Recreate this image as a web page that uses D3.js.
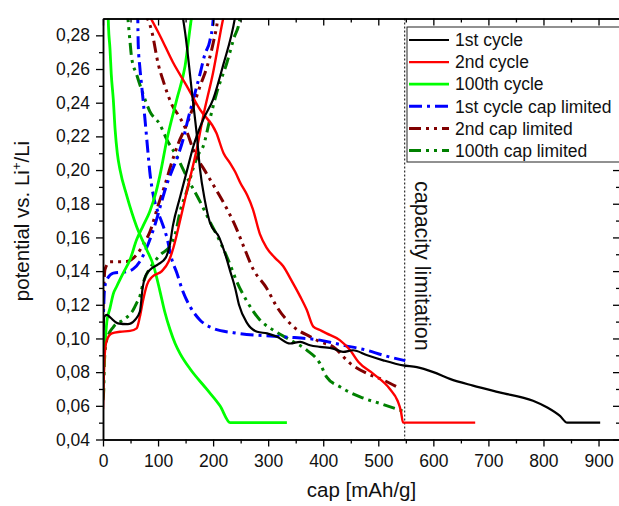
<!DOCTYPE html>
<html>
<head>
<meta charset="utf-8">
<script src="https://cdn.jsdelivr.net/npm/d3@7"></script>
<style>
  html, body { margin: 0; padding: 0; background: #fff; }
  svg { display: block; font-family: "Liberation Sans", Arial, sans-serif; }
</style>
</head>
<body>
<svg id="chart" width="619" height="506"></svg>
<script>
// Capacity / potential pairs [mAh/g, V vs. Li+/Li], one array per branch.
const cycle1Discharge = [[143,0.295],[149,0.282],[163,0.242],[170,0.222],[176,0.201],[185,0.182],[194,0.169],[211,0.160],[222,0.150],[231,0.140],[240,0.130],[247,0.120],[262,0.109],[280,0.104],[298,0.103],[316,0.101],[340,0.097],[358,0.098],[376,0.096],[394,0.095],[418,0.094],[436,0.092],[454,0.093],[480,0.090],[509,0.087],[545,0.084],[570,0.083],[600,0.080],[630,0.076],[672,0.072],[720,0.068],[781,0.063],[807,0.059],[830,0.054],[843,0.050],[903,0.050]];
const cycle1Charge = [[0,0.095],[1,0.105],[2.5,0.113],[7,0.114],[13,0.1125],[27,0.109],[45,0.1085],[58,0.111],[67,0.116],[72,0.130],[77,0.137],[86,0.141],[100,0.144],[114,0.148],[121,0.155],[127,0.167],[140,0.184],[152,0.199],[164,0.214],[182,0.230],[200,0.242],[218,0.262],[240,0.291],[242,0.295]];

const cycle2Discharge = [[82,0.293],[104,0.2795],[127,0.264],[152,0.250],[176,0.236],[206,0.222],[219,0.210],[231,0.204],[240,0.199],[250,0.192],[262,0.185],[272,0.177],[285,0.162],[297,0.154],[312,0.148],[327,0.143],[343,0.134],[358,0.125],[370,0.117],[382,0.107],[394,0.105],[406,0.103],[430,0.099],[449,0.093],[464,0.086],[491,0.079],[521,0.070],[535,0.063],[541,0.057],[545,0.050],[676,0.050]];
const cycle2Charge = [[0,0.058],[1.3,0.075],[3,0.090],[7,0.099],[16,0.103],[31,0.104],[49,0.1045],[61,0.106],[67,0.113],[73,0.123],[80,0.132],[89,0.1365],[107,0.140],[119,0.1455],[128,0.154],[140,0.170],[152,0.187],[170,0.212],[182,0.232],[200,0.258],[218,0.2895],[221,0.294]];

const cycle100Discharge = [[9,0.295],[10,0.285],[12.7,0.272],[15,0.257],[18.7,0.242],[22,0.224],[26,0.210],[31,0.200],[43,0.185],[61,0.1665],[79,0.153],[92,0.143],[103.5,0.128],[112,0.116],[122,0.105],[131,0.097],[140,0.091],[158,0.082],[188,0.070],[212.5,0.060],[231,0.050],[334,0.050]];
const cycle100Charge = [[0,0.068],[1.8,0.087],[3.6,0.096],[7,0.110],[12.7,0.118],[18.7,0.1265],[25,0.131],[37,0.139],[49,0.1467],[61,0.1586],[73,0.167],[85,0.1754],[96,0.1866],[103.5,0.197],[116,0.218],[134,0.242],[149,0.2617],[161,0.291],[163,0.295]];

const limited1Discharge = [[63,0.295],[64,0.2746],[67,0.2607],[70,0.2508],[73,0.2409],[76,0.231],[82,0.2092],[85,0.199],[92,0.184],[100,0.175],[108,0.168],[116,0.160],[125,0.147],[134,0.139],[145,0.128],[158,0.119],[176,0.111],[200,0.106],[237,0.1034],[327,0.101],[394,0.099],[436,0.096],[479,0.093],[509,0.090],[549,0.0868]];
const limited1Charge = [[0,0.105],[0.5,0.111],[1.3,0.119],[2.7,0.129],[6.7,0.1348],[18.7,0.1388],[43,0.1397],[55,0.1413],[67,0.1457],[79,0.1537],[94.5,0.1676],[106.6,0.1814],[115.7,0.1913],[124.8,0.1992],[136.8,0.2092],[145.3,0.218],[155,0.231],[164,0.242],[176,0.2568],[185,0.2687],[194,0.2766],[200.4,0.2905],[201,0.294]];

const limited2Discharge = [[72,0.295],[88.5,0.2825],[100.5,0.2627],[109.5,0.2528],[125,0.2389],[140,0.231],[152,0.223],[164,0.2121],[188,0.198],[206,0.188],[225,0.177],[240,0.167],[255,0.155],[273,0.141],[297,0.130],[315.5,0.1189],[346,0.107],[376,0.1011],[394,0.0981],[418,0.0951],[449,0.0852],[479,0.0793],[509,0.0753],[533.5,0.0713]];
const limited2Charge = [[0,0.117],[1.3,0.129],[3.6,0.141],[12.7,0.1455],[43,0.1457],[61,0.1497],[73,0.1556],[85.4,0.1635],[100.5,0.1794],[112.6,0.1913],[124.8,0.2044],[136,0.2152],[152,0.227],[164,0.2377],[176,0.2496],[188,0.2603],[200,0.2752],[209,0.2912],[210,0.294]];

const limited100Discharge = [[44,0.295],[49,0.2765],[52,0.2667],[61,0.2568],[73,0.2449],[85,0.2349],[103.5,0.227],[116,0.2181],[134,0.2081],[152,0.1961],[176,0.1814],[194,0.1695],[212.5,0.1576],[231,0.1437],[243,0.1338],[261,0.1223],[285,0.111],[309,0.105],[340,0.0991],[370,0.0931],[394,0.0852],[406,0.0772],[430.5,0.0713],[467,0.0653],[503,0.0614],[545,0.0568]];
const limited100Charge = [[0,0.0634],[1.3,0.0693],[2.7,0.0872],[6.7,0.099],[18.7,0.1068],[37,0.111],[55,0.117],[61,0.121],[67,0.125],[73,0.133],[79,0.138],[90,0.144],[103.5,0.1495],[122,0.155],[132,0.163],[140,0.1754],[152,0.1873],[164,0.2012],[173,0.2092],[182,0.2141],[194,0.230],[206.5,0.2459],[225,0.2637],[237,0.2776],[249,0.2905],[250,0.294]];

const seriesNames = ["1st cycle", "2nd cycle", "100th cycle", "1st cycle cap limited", "2nd cap limited", "100th cap limited"];
const seriesColors = ["#000000", "#ff0000", "#00ff00", "#0000ff", "#800000", "#008000"];
const capacityLimit = 548;

const xMajorTicks = [0, 100, 200, 300, 400, 500, 600, 700, 800, 900];
const xMinorTicks = [50, 150, 250, 350, 450, 550, 650, 750, 850];
const yMajorTicks = [0.04, 0.06, 0.08, 0.10, 0.12, 0.14, 0.16, 0.18, 0.20, 0.22, 0.24, 0.26, 0.28];
const yMinorTicks = [0.05, 0.07, 0.09, 0.11, 0.13, 0.15, 0.17, 0.19, 0.21, 0.23, 0.25, 0.27];

// Line styles per series (width, dash pattern)
const styles = [
  { w: 2.2, dash: null },
  { w: 2.4, dash: null },
  { w: 2.8, dash: null },
  { w: 3, dash: "13,5,3,5" },
  { w: 3, dash: "12,5,3,5,3,5" },
  { w: 3, dash: "12,5,3,5,3,5" }
];
const branches = [
  [cycle1Discharge, cycle1Charge],
  [cycle2Discharge, cycle2Charge],
  [cycle100Discharge, cycle100Charge],
  [limited1Discharge, limited1Charge],
  [limited2Discharge, limited2Charge],
  [limited100Discharge, limited100Charge]
];

const svg = d3.select("#chart");
const plotLeft = 103, plotRight = 620, plotTop = 18.5, plotBottom = 439.5;

const x = d3.scaleLinear().domain([0, 939]).range([plotLeft, plotRight]);
const y = d3.scaleLinear().domain([0.04, 0.29]).range([plotBottom, plotTop]);

const comma = v => d3.format(".2f")(v).replace(".", ",");

svg.append("clipPath").attr("id", "plotClip")
  .append("rect").attr("x", plotLeft).attr("y", plotTop)
  .attr("width", plotRight - plotLeft).attr("height", plotBottom - plotTop);

// capacity limitation marker
svg.append("line")
  .attr("x1", x(capacityLimit)).attr("x2", x(capacityLimit))
  .attr("y1", plotTop).attr("y2", plotBottom)
  .attr("stroke", "#000").attr("stroke-width", 1).attr("stroke-dasharray", "2,2");

svg.append("text")
  .attr("transform", `translate(415,181) rotate(90)`)
  .attr("font-size", 21.5).attr("fill", "#111")
  .text("capacity limitation");

// curves: every branch runs with increasing capacity, so a monotone spline avoids overshoot
const line = d3.line().x(d => x(d[0])).y(d => y(d[1])).curve(d3.curveMonotoneX);
const plot = svg.append("g").attr("clip-path", "url(#plotClip)");
[5, 4, 3, 2, 1, 0].forEach(i => {
  branches[i].forEach(b => {
    plot.append("path")
      .attr("d", line(b))
      .attr("fill", "none")
      .attr("stroke", seriesColors[i])
      .attr("stroke-width", styles[i].w)
      .attr("stroke-dasharray", styles[i].dash)
      .attr("stroke-linejoin", "round");
  });
});

// axes
function styleAxis(g) {
  g.selectAll("path.domain").attr("stroke", "#000").attr("stroke-width", 1.5);
  g.selectAll(".tick line").attr("stroke", "#000").attr("stroke-width", 1.3);
  g.selectAll("text").attr("font-size", 17.5).attr("fill", "#111").attr("font-family", "Liberation Sans, Arial, sans-serif");
}

svg.append("g").attr("transform", `translate(0,${plotBottom})`)
  .call(d3.axisBottom(x).tickValues(xMajorTicks).tickSize(7).tickSizeOuter(0).tickPadding(8).tickFormat(d3.format("d")))
  .call(styleAxis);
svg.append("g").attr("transform", `translate(0,${plotBottom})`)
  .call(d3.axisBottom(x).tickValues(xMinorTicks).tickSize(4).tickSizeOuter(0).tickFormat(""))
  .call(styleAxis);
svg.append("g").attr("transform", `translate(0,${plotTop})`)
  .call(d3.axisTop(x).tickValues(xMajorTicks).tickSize(-7).tickSizeOuter(0).tickFormat(""))
  .call(styleAxis);
svg.append("g").attr("transform", `translate(0,${plotTop})`)
  .call(d3.axisTop(x).tickValues(xMinorTicks).tickSize(-4).tickSizeOuter(0).tickFormat(""))
  .call(styleAxis);

svg.append("g").attr("transform", `translate(${plotLeft},0)`)
  .call(d3.axisLeft(y).tickValues(yMajorTicks).tickSize(7).tickSizeOuter(0).tickPadding(6).tickFormat(comma))
  .call(styleAxis);
svg.append("g").attr("transform", `translate(${plotLeft},0)`)
  .call(d3.axisLeft(y).tickValues(yMinorTicks).tickSize(4).tickSizeOuter(0).tickFormat(""))
  .call(styleAxis);
svg.append("g").attr("transform", `translate(${plotRight},0)`)
  .call(d3.axisRight(y).tickValues(yMajorTicks).tickSize(-7).tickSizeOuter(0).tickFormat(""))
  .call(styleAxis);
svg.append("g").attr("transform", `translate(${plotRight},0)`)
  .call(d3.axisRight(y).tickValues(yMinorTicks).tickSize(-4).tickSizeOuter(0).tickFormat(""))
  .call(styleAxis);

// axis titles
svg.append("text")
  .attr("x", (plotLeft + plotRight) / 2).attr("y", 497)
  .attr("text-anchor", "middle").attr("font-size", 20.5).attr("fill", "#111")
  .text("cap [mAh/g]");

const yt = svg.append("text")
  .attr("transform", `translate(29,${(plotTop + plotBottom) / 2 - 8}) rotate(-90)`)
  .attr("text-anchor", "middle").attr("font-size", 20.5).attr("fill", "#111");
yt.append("tspan").text("potential vs. Li");
yt.append("tspan").attr("font-size", 13).attr("dy", -8).text("+");
yt.append("tspan").attr("dy", 8).text("/Li");

// legend
const legend = svg.append("g");
legend.append("rect")
  .attr("x", 407).attr("y", 27).attr("width", 240).attr("height", 135)
  .attr("fill", "#fff").attr("stroke", "#222").attr("stroke-width", 1);
seriesNames.forEach((name, i) => {
  const cy = 40 + i * 22.1;
  legend.append("line")
    .attr("x1", 409).attr("x2", 449).attr("y1", cy).attr("y2", cy)
    .attr("stroke", seriesColors[i]).attr("stroke-width", styles[i].w)
    .attr("stroke-dasharray", styles[i].dash);
  legend.append("text")
    .attr("x", 455).attr("y", cy + 6.2)
    .attr("font-size", 17.5).attr("fill", "#111")
    .text(name);
});
</script>
</body>
</html>
